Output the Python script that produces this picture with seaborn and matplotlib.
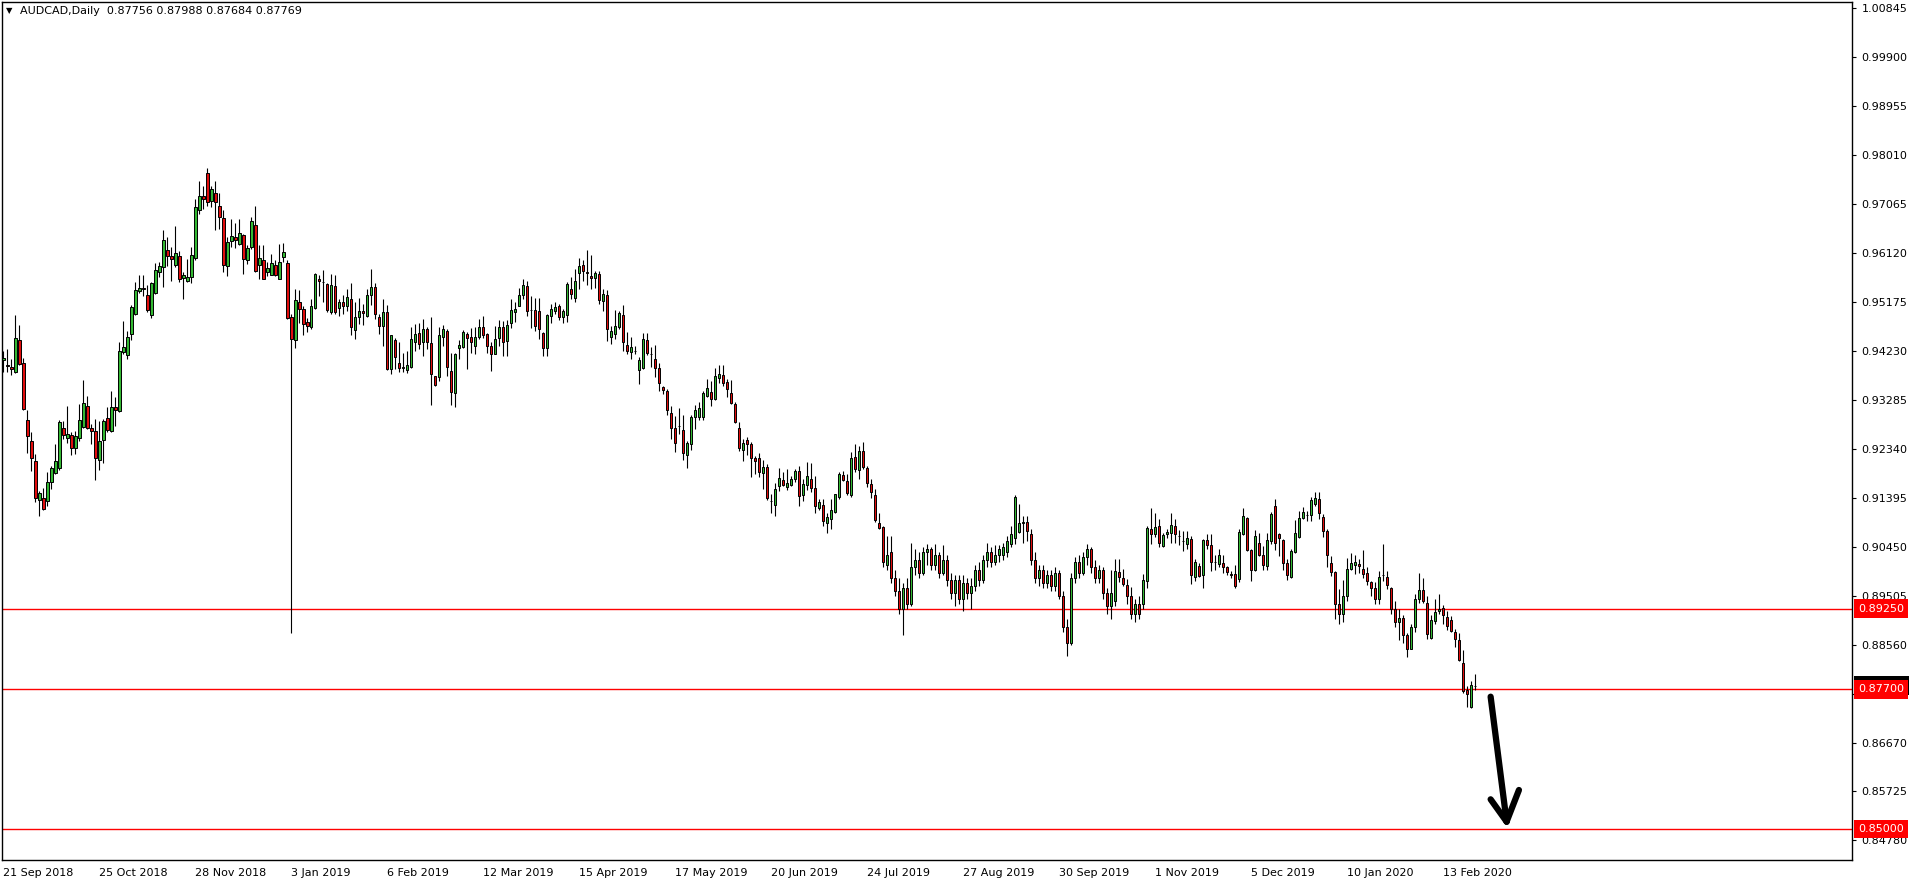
import numpy as np
import pandas as pd
import matplotlib
matplotlib.use("Agg")
import matplotlib.pyplot as plt
import matplotlib.transforms as mtransforms
import seaborn as sns

# header of the chart window
symbol = "AUDCAD,Daily"
last_ohlc = "0.87756 0.87988 0.87684 0.87769"

# one date label every 24 bars (MT4 style)
date_labels = ["21 Sep 2018", "25 Oct 2018", "28 Nov 2018", "3 Jan 2019", "6 Feb 2019",
               "12 Mar 2019", "15 Apr 2019", "17 May 2019", "20 Jun 2019", "24 Jul 2019",
               "27 Aug 2019", "30 Sep 2019", "1 Nov 2019", "5 Dec 2019", "10 Jan 2020",
               "13 Feb 2020"]
bars_per_label = 24

# daily candles
opens = [
    0.9405, 0.9396, 0.9393, 0.9383, 0.9444, 0.9399, 0.9289, 0.9250, 0.9211, 0.9136,
    0.9139, 0.9134, 0.9171, 0.9187, 0.9197, 0.9275, 0.9255, 0.9261, 0.9236, 0.9255,
    0.9276, 0.9316, 0.9274, 0.9269, 0.9212, 0.9251, 0.9293, 0.9268, 0.9314, 0.9307,
    0.9422, 0.9416, 0.9455, 0.9494, 0.9538, 0.9545, 0.9532, 0.9493, 0.9535, 0.9575,
    0.9585, 0.9618, 0.9606, 0.9589, 0.9606, 0.9564, 0.9559, 0.9566, 0.9603, 0.9695,
    0.9722, 0.9767, 0.9712, 0.9729, 0.9703, 0.9680, 0.9587, 0.9635, 0.9643, 0.9629,
    0.9647, 0.9598, 0.9623, 0.9666, 0.9589, 0.9599, 0.9575, 0.9570, 0.9589, 0.9563,
    0.9604, 0.9593, 0.9488, 0.9444, 0.9517, 0.9504, 0.9479, 0.9469, 0.9506, 0.9562,
    0.9557, 0.9553, 0.9499, 0.9548, 0.9507, 0.9517, 0.9509, 0.9524, 0.9463, 0.9488,
    0.9500, 0.9491, 0.9532, 0.9546, 0.9488, 0.9472, 0.9498, 0.9388, 0.9445, 0.9399,
    0.9392, 0.9387, 0.9393, 0.9441, 0.9457, 0.9440, 0.9465, 0.9438, 0.9374, 0.9373,
    0.9450, 0.9461, 0.9385, 0.9341, 0.9429, 0.9430, 0.9455, 0.9451, 0.9433, 0.9450,
    0.9469, 0.9455, 0.9433, 0.9418, 0.9449, 0.9470, 0.9443, 0.9478, 0.9499, 0.9510,
    0.9532, 0.9548, 0.9503, 0.9503, 0.9500, 0.9457, 0.9429, 0.9490, 0.9500, 0.9509,
    0.9488, 0.9493, 0.9543, 0.9526, 0.9573, 0.9589, 0.9575, 0.9568, 0.9564, 0.9571,
    0.9520, 0.9531, 0.9451, 0.9455, 0.9470, 0.9492, 0.9435, 0.9422, 0.9424, 0.9386,
    0.9391, 0.9444, 0.9418, 0.9408, 0.9391, 0.9353, 0.9346, 0.9304, 0.9274, 0.9279,
    0.9270, 0.9223, 0.9243, 0.9296, 0.9296, 0.9296, 0.9337, 0.9344, 0.9331, 0.9371,
    0.9376, 0.9363, 0.9341, 0.9320, 0.9275, 0.9232, 0.9251, 0.9243, 0.9216, 0.9216,
    0.9188, 0.9199, 0.9134, 0.9126, 0.9163, 0.9174, 0.9161, 0.9165, 0.9175, 0.9191,
    0.9145, 0.9165, 0.9176, 0.9158, 0.9119, 0.9125, 0.9090, 0.9098, 0.9112, 0.9141,
    0.9183, 0.9172, 0.9145, 0.9219, 0.9194, 0.9230, 0.9198, 0.9166, 0.9145, 0.9090,
    0.9083, 0.9010, 0.9035, 0.8985, 0.8960, 0.8925, 0.8965, 0.8935, 0.9005, 0.9020,
    0.8995, 0.9035, 0.9040, 0.9010, 0.9030, 0.8995, 0.9020, 0.8980, 0.8955, 0.8980,
    0.8945, 0.8975, 0.8955, 0.8970, 0.9000, 0.8980, 0.9020, 0.9035, 0.9015, 0.9030,
    0.9030, 0.9035, 0.9050, 0.9061, 0.9074, 0.9090, 0.9092, 0.9069, 0.9020, 0.8985,
    0.9000, 0.8975, 0.8990, 0.8970, 0.8995, 0.8950, 0.8890, 0.8860, 0.8985, 0.9015,
    0.8995, 0.9025, 0.9040, 0.9005, 0.8985, 0.9000, 0.8955, 0.8930, 0.8940, 0.8997,
    0.8985, 0.8972, 0.8950, 0.8915, 0.8935, 0.8935, 0.8979, 0.9080, 0.9070, 0.9085,
    0.9047, 0.9070, 0.9072, 0.9085, 0.9066, 0.9057, 0.9051, 0.9060, 0.8987, 0.9007,
    0.8990, 0.9059, 0.9048, 0.9016, 0.9012, 0.9013, 0.9005, 0.8992, 0.8992, 0.8983,
    0.9070, 0.9101, 0.9038, 0.9001, 0.9053, 0.9030, 0.9007, 0.9056, 0.9123, 0.9069,
    0.9058, 0.9014, 0.8987, 0.9034, 0.9063, 0.9100, 0.9107, 0.9106, 0.9127, 0.9137,
    0.9102, 0.9076, 0.9014, 0.8997, 0.8935, 0.8915, 0.8950, 0.9003, 0.9009, 0.9011,
    0.9003, 0.8995, 0.8977, 0.8966, 0.8945, 0.8991, 0.8987, 0.8966, 0.8925, 0.8900,
    0.8908, 0.8874, 0.8848, 0.8890, 0.8945, 0.8961, 0.8936, 0.8869, 0.8901, 0.8921,
    0.8927, 0.8910, 0.8904, 0.8881, 0.8864, 0.8820, 0.8769, 0.8735, 0.87756,
]
highs = [
    0.9423, 0.9427, 0.9408, 0.9492, 0.9474, 0.9409, 0.9309, 0.9266, 0.9224, 0.9153,
    0.9158, 0.9189, 0.9201, 0.9243, 0.9289, 0.9288, 0.9316, 0.9266, 0.9268, 0.9320,
    0.9367, 0.9336, 0.9283, 0.9291, 0.9287, 0.9291, 0.9314, 0.9346, 0.9334, 0.9441,
    0.9481, 0.9462, 0.9512, 0.9556, 0.9570, 0.9569, 0.9551, 0.9556, 0.9593, 0.9594,
    0.9656, 0.9643, 0.9623, 0.9664, 0.9617, 0.9576, 0.9601, 0.9623, 0.9716, 0.9751,
    0.9742, 0.9777, 0.9742, 0.9751, 0.9728, 0.9696, 0.9644, 0.9678, 0.9670, 0.9678,
    0.9649, 0.9628, 0.9681, 0.9703, 0.9627, 0.9628, 0.9594, 0.9611, 0.9599, 0.9630,
    0.9631, 0.9599, 0.9495, 0.9543, 0.9540, 0.9510, 0.9487, 0.9524, 0.9574, 0.9569,
    0.9580, 0.9555, 0.9572, 0.9569, 0.9524, 0.9531, 0.9543, 0.9555, 0.9517, 0.9525,
    0.9514, 0.9543, 0.9582, 0.9555, 0.9495, 0.9524, 0.9512, 0.9454, 0.9449, 0.9440,
    0.9420, 0.9424, 0.9469, 0.9475, 0.9477, 0.9485, 0.9470, 0.9488, 0.9375, 0.9470,
    0.9473, 0.9466, 0.9419, 0.9420, 0.9444, 0.9464, 0.9459, 0.9468, 0.9470, 0.9485,
    0.9491, 0.9458, 0.9441, 0.9472, 0.9483, 0.9481, 0.9483, 0.9524, 0.9517, 0.9544,
    0.9563, 0.9558, 0.9530, 0.9525, 0.9525, 0.9459, 0.9495, 0.9514, 0.9517, 0.9514,
    0.9504, 0.9556, 0.9566, 0.9582, 0.9602, 0.9598, 0.9618, 0.9608, 0.9578, 0.9578,
    0.9542, 0.9540, 0.9472, 0.9503, 0.9501, 0.9511, 0.9459, 0.9450, 0.9433, 0.9411,
    0.9458, 0.9458, 0.9431, 0.9434, 0.9399, 0.9356, 0.9350, 0.9316, 0.9297, 0.9313,
    0.9299, 0.9250, 0.9299, 0.9318, 0.9324, 0.9346, 0.9369, 0.9366, 0.9391, 0.9396,
    0.9396, 0.9369, 0.9368, 0.9325, 0.9285, 0.9254, 0.9256, 0.9247, 0.9221, 0.9227,
    0.9212, 0.9205, 0.9146, 0.9169, 0.9197, 0.9189, 0.9195, 0.9181, 0.9195, 0.9200,
    0.9176, 0.9208, 0.9206, 0.9182, 0.9137, 0.9137, 0.9111, 0.9137, 0.9147, 0.9189,
    0.9192, 0.9185, 0.9228, 0.9243, 0.9240, 0.9247, 0.9200, 0.9176, 0.9156, 0.9111,
    0.9085, 0.9066, 0.9066, 0.9000, 0.8985, 0.8975, 0.8985, 0.9052, 0.9040, 0.9035,
    0.9045, 0.9050, 0.9045, 0.9050, 0.9035, 0.9049, 0.9030, 0.8995, 0.8990, 0.8990,
    0.8990, 0.8985, 0.8985, 0.9010, 0.9015, 0.9030, 0.9053, 0.9045, 0.9049, 0.9049,
    0.9053, 0.9065, 0.9086, 0.9145, 0.9127, 0.9105, 0.9105, 0.9080, 0.9035, 0.9010,
    0.9010, 0.9000, 0.9000, 0.9005, 0.9000, 0.8960, 0.8905, 0.8995, 0.9025, 0.9030,
    0.9035, 0.9050, 0.9045, 0.9020, 0.9010, 0.9005, 0.8965, 0.9001, 0.9021, 0.9021,
    0.9003, 0.8983, 0.8967, 0.8945, 0.8950, 0.8992, 0.9085, 0.9119, 0.9110, 0.9098,
    0.9071, 0.9079, 0.9110, 0.9098, 0.9078, 0.9076, 0.9076, 0.9065, 0.9022, 0.9014,
    0.9060, 0.9069, 0.9069, 0.9029, 0.9041, 0.9029, 0.9008, 0.8998, 0.9009, 0.9079,
    0.9119, 0.9103, 0.9041, 0.9078, 0.9072, 0.9047, 0.9072, 0.9112, 0.9137, 0.9071,
    0.9060, 0.9021, 0.9040, 0.9097, 0.9114, 0.9121, 0.9114, 0.9141, 0.9150, 0.9150,
    0.9108, 0.9079, 0.9027, 0.8998, 0.8964, 0.8981, 0.9024, 0.9032, 0.9029, 0.9021,
    0.9038, 0.9006, 0.8979, 0.8977, 0.8998, 0.9050, 0.8998, 0.8968, 0.8940, 0.8925,
    0.8914, 0.8879, 0.8896, 0.8953, 0.8995, 0.8985, 0.8949, 0.8914, 0.8945, 0.8953,
    0.8932, 0.8921, 0.8911, 0.8887, 0.8878, 0.8845, 0.8776, 0.8785, 0.87988,
]
lows = [
    0.9382, 0.9382, 0.9376, 0.9380, 0.9396, 0.9309, 0.9226, 0.9191, 0.9131, 0.9104,
    0.9116, 0.9124, 0.9156, 0.9185, 0.9194, 0.9254, 0.9245, 0.9222, 0.9224, 0.9249,
    0.9275, 0.9272, 0.9243, 0.9173, 0.9194, 0.9206, 0.9266, 0.9266, 0.9278, 0.9305,
    0.9417, 0.9408, 0.9445, 0.9493, 0.9536, 0.9530, 0.9498, 0.9487, 0.9533, 0.9566,
    0.9547, 0.9587, 0.9559, 0.9585, 0.9557, 0.9523, 0.9556, 0.9554, 0.9599, 0.9687,
    0.9697, 0.9703, 0.9701, 0.9656, 0.9659, 0.9575, 0.9567, 0.9623, 0.9622, 0.9627,
    0.9572, 0.9591, 0.9620, 0.9575, 0.9563, 0.9562, 0.9567, 0.9569, 0.9567, 0.9562,
    0.9594, 0.9485, 0.8879, 0.9429, 0.9478, 0.9454, 0.9459, 0.9466, 0.9504, 0.9530,
    0.9518, 0.9498, 0.9495, 0.9494, 0.9491, 0.9495, 0.9501, 0.9454, 0.9447, 0.9475,
    0.9473, 0.9488, 0.9512, 0.9485, 0.9456, 0.9433, 0.9387, 0.9378, 0.9388, 0.9383,
    0.9383, 0.9381, 0.9390, 0.9423, 0.9427, 0.9414, 0.9427, 0.9319, 0.9355, 0.9366,
    0.9433, 0.9375, 0.9318, 0.9315, 0.9408, 0.9429, 0.9388, 0.9420, 0.9417, 0.9447,
    0.9449, 0.9420, 0.9385, 0.9417, 0.9433, 0.9413, 0.9413, 0.9468, 0.9479, 0.9509,
    0.9524, 0.9491, 0.9467, 0.9462, 0.9447, 0.9414, 0.9414, 0.9478, 0.9495, 0.9482,
    0.9477, 0.9480, 0.9524, 0.9518, 0.9543, 0.9559, 0.9551, 0.9543, 0.9544, 0.9514,
    0.9501, 0.9443, 0.9437, 0.9446, 0.9466, 0.9424, 0.9417, 0.9408, 0.9417, 0.9359,
    0.9388, 0.9415, 0.9392, 0.9373, 0.9345, 0.9340, 0.9299, 0.9253, 0.9228, 0.9262,
    0.9213, 0.9197, 0.9232, 0.9273, 0.9290, 0.9290, 0.9334, 0.9316, 0.9329, 0.9361,
    0.9356, 0.9335, 0.9321, 0.9284, 0.9230, 0.9211, 0.9222, 0.9179, 0.9185, 0.9179,
    0.9156, 0.9136, 0.9110, 0.9104, 0.9153, 0.9162, 0.9154, 0.9162, 0.9171, 0.9124,
    0.9134, 0.9155, 0.9150, 0.9110, 0.9116, 0.9085, 0.9072, 0.9079, 0.9111, 0.9137,
    0.9172, 0.9145, 0.9141, 0.9189, 0.9176, 0.9195, 0.9160, 0.9139, 0.9092, 0.9079,
    0.9005, 0.9000, 0.8975, 0.8950, 0.8915, 0.8875, 0.8925, 0.8930, 0.8990, 0.8985,
    0.8990, 0.9010, 0.9000, 0.9000, 0.8985, 0.8990, 0.8970, 0.8945, 0.8930, 0.8935,
    0.8920, 0.8945, 0.8925, 0.8960, 0.8970, 0.8975, 0.9005, 0.9005, 0.9010, 0.9015,
    0.9020, 0.9025, 0.9045, 0.9050, 0.9072, 0.9052, 0.9056, 0.9010, 0.8975, 0.8970,
    0.8965, 0.8965, 0.8960, 0.8960, 0.8945, 0.8880, 0.8835, 0.8855, 0.8975, 0.8985,
    0.8990, 0.9010, 0.8995, 0.8975, 0.8975, 0.8945, 0.8915, 0.8905, 0.8930, 0.8976,
    0.8970, 0.8935, 0.8905, 0.8900, 0.8905, 0.8925, 0.8965, 0.9050, 0.9063, 0.9045,
    0.9045, 0.9061, 0.9053, 0.9053, 0.9049, 0.9036, 0.9040, 0.8974, 0.8979, 0.8987,
    0.8966, 0.9040, 0.8998, 0.9000, 0.9005, 0.8994, 0.8990, 0.8985, 0.8966, 0.8977,
    0.9068, 0.9037, 0.8979, 0.8998, 0.9027, 0.9001, 0.9001, 0.9050, 0.9039, 0.9027,
    0.9001, 0.8981, 0.8985, 0.9032, 0.9061, 0.9098, 0.9095, 0.9095, 0.9124, 0.9098,
    0.9063, 0.9005, 0.8989, 0.8905, 0.8895, 0.8900, 0.8940, 0.9001, 0.8992, 0.8995,
    0.8985, 0.8972, 0.8950, 0.8935, 0.8935, 0.8979, 0.8963, 0.8915, 0.8890, 0.8865,
    0.8860, 0.8832, 0.8847, 0.8880, 0.8937, 0.8937, 0.8867, 0.8867, 0.8896, 0.8916,
    0.8896, 0.8884, 0.8880, 0.8852, 0.8824, 0.8763, 0.8735, 0.8734, 0.87684,
]
closes = [
    0.9410, 0.9394, 0.9389, 0.9448, 0.9397, 0.9311, 0.9258, 0.9216, 0.9139, 0.9148,
    0.9117, 0.9171, 0.9197, 0.9210, 0.9285, 0.9261, 0.9263, 0.9236, 0.9258, 0.9289,
    0.9323, 0.9275, 0.9269, 0.9216, 0.9250, 0.9287, 0.9270, 0.9314, 0.9309, 0.9423,
    0.9430, 0.9451, 0.9508, 0.9541, 0.9544, 0.9542, 0.9503, 0.9554, 0.9580, 0.9587,
    0.9638, 0.9606, 0.9600, 0.9612, 0.9563, 0.9570, 0.9566, 0.9609, 0.9701, 0.9722,
    0.9716, 0.9711, 0.9735, 0.9711, 0.9681, 0.9590, 0.9633, 0.9645, 0.9638, 0.9651,
    0.9601, 0.9622, 0.9675, 0.9577, 0.9603, 0.9563, 0.9584, 0.9593, 0.9570, 0.9595,
    0.9614, 0.9486, 0.9446, 0.9522, 0.9505, 0.9476, 0.9472, 0.9510, 0.9572, 0.9558,
    0.9556, 0.9503, 0.9551, 0.9498, 0.9517, 0.9509, 0.9528, 0.9470, 0.9488, 0.9501,
    0.9497, 0.9532, 0.9546, 0.9494, 0.9472, 0.9498, 0.9389, 0.9453, 0.9411, 0.9391,
    0.9391, 0.9396, 0.9446, 0.9456, 0.9437, 0.9465, 0.9440, 0.9378, 0.9357, 0.9453,
    0.9465, 0.9392, 0.9344, 0.9417, 0.9435, 0.9459, 0.9449, 0.9440, 0.9451, 0.9469,
    0.9454, 0.9433, 0.9418, 0.9447, 0.9469, 0.9441, 0.9473, 0.9503, 0.9505, 0.9532,
    0.9551, 0.9501, 0.9502, 0.9472, 0.9466, 0.9429, 0.9492, 0.9504, 0.9508, 0.9489,
    0.9500, 0.9552, 0.9533, 0.9558, 0.9587, 0.9578, 0.9573, 0.9564, 0.9573, 0.9522,
    0.9533, 0.9465, 0.9461, 0.9471, 0.9497, 0.9440, 0.9424, 0.9431, 0.9423, 0.9406,
    0.9446, 0.9419, 0.9417, 0.9390, 0.9362, 0.9348, 0.9310, 0.9275, 0.9246, 0.9278,
    0.9227, 0.9245, 0.9295, 0.9310, 0.9313, 0.9342, 0.9351, 0.9330, 0.9374, 0.9378,
    0.9362, 0.9349, 0.9322, 0.9286, 0.9235, 0.9246, 0.9244, 0.9216, 0.9211, 0.9190,
    0.9199, 0.9139, 0.9133, 0.9156, 0.9177, 0.9165, 0.9169, 0.9176, 0.9192, 0.9143,
    0.9166, 0.9181, 0.9159, 0.9124, 0.9132, 0.9095, 0.9103, 0.9116, 0.9146, 0.9185,
    0.9174, 0.9149, 0.9216, 0.9195, 0.9230, 0.9199, 0.9169, 0.9151, 0.9097, 0.9081,
    0.9015, 0.9030, 0.8985, 0.8960, 0.8925, 0.8965, 0.8935, 0.9005, 0.9020, 0.8995,
    0.9035, 0.9040, 0.9010, 0.9030, 0.8995, 0.9020, 0.8980, 0.8955, 0.8980, 0.8945,
    0.8975, 0.8955, 0.8970, 0.9000, 0.8980, 0.9020, 0.9035, 0.9015, 0.9030, 0.9040,
    0.9045, 0.9056, 0.9069, 0.9141, 0.9090, 0.9092, 0.9076, 0.9020, 0.8985, 0.9000,
    0.8975, 0.8990, 0.8970, 0.8995, 0.8950, 0.8890, 0.8860, 0.8985, 0.9015, 0.8995,
    0.9025, 0.9040, 0.9005, 0.8985, 0.9000, 0.8955, 0.8930, 0.8955, 0.8999, 0.8987,
    0.8974, 0.8950, 0.8915, 0.8935, 0.8915, 0.8980, 0.9081, 0.9070, 0.9083, 0.9053,
    0.9067, 0.9074, 0.9087, 0.9069, 0.9065, 0.9056, 0.9061, 0.8990, 0.9015, 0.8989,
    0.9058, 0.9049, 0.9016, 0.9015, 0.9029, 0.9005, 0.8996, 0.8991, 0.8969, 0.9074,
    0.9104, 0.9039, 0.9000, 0.9065, 0.9029, 0.9010, 0.9059, 0.9108, 0.9052, 0.9061,
    0.9014, 0.8990, 0.9036, 0.9072, 0.9101, 0.9113, 0.9106, 0.9135, 0.9139, 0.9111,
    0.9076, 0.9030, 0.8997, 0.8935, 0.8915, 0.8950, 0.9003, 0.9013, 0.9016, 0.9007,
    0.8993, 0.8979, 0.8965, 0.8945, 0.8987, 0.8990, 0.8972, 0.8925, 0.8900, 0.8908,
    0.8874, 0.8848, 0.8890, 0.8945, 0.8961, 0.8940, 0.8876, 0.8904, 0.8919, 0.8925,
    0.8913, 0.8892, 0.8882, 0.8867, 0.8826, 0.8766, 0.8761, 0.8779, 0.87769,
]

# right price scale
price_ticks = [0.84780, 0.85725, 0.86670, 0.87615, 0.88560, 0.89505, 0.90450, 0.91395,
               0.92340, 0.93285, 0.94230, 0.95175, 0.96120, 0.97065, 0.98010, 0.98955,
               0.99900, 1.00845]
# horizontal levels drawn on the chart
levels = [0.89250, 0.87700, 0.85000]
last_close = 0.87769

# hand drawn arrow (bar index, price)
arrow_shaft = ([371.85, 375.85], [0.87555, 0.85141])
arrow_left = ([371.85, 375.85], [0.85573, 0.85141])
arrow_right = ([378.93, 375.85], [0.85753, 0.85141])

df = pd.DataFrame({"open": opens, "high": highs, "low": lows, "close": closes})
df["bar"] = np.arange(len(df))
df["up"] = df["close"] >= df["open"]

sns.set_style("white")
plt.rcParams["font.family"] = ["DejaVu Sans"]

fig = plt.figure(figsize=(19.16, 8.84), dpi=100)
ax = fig.add_axes([2 / 1916, 24 / 884, 1850 / 1916, 858 / 884])

# candles
ax.vlines(df["bar"], df["low"], df["high"], color="black", lw=0.8, zorder=3)
body_lo = df[["open", "close"]].min(axis=1)
body_h = (df["close"] - df["open"]).abs().clip(lower=0.00004)
ax.bar(df["bar"], body_h, bottom=body_lo, width=0.6,
       color=np.where(df["up"], "#33b833", "#e00d0d"),
       edgecolor="black", linewidth=0.7, zorder=4)

for lv in levels:
    ax.axhline(lv, color="red", lw=1.0, zorder=2)

for xs, ys in (arrow_shaft, arrow_left, arrow_right):
    ax.plot(xs, ys, color="black", lw=4.5, solid_capstyle="round", zorder=6)

ax.set_xlim(-0.33, 462.2)
ax.set_ylim(0.84401, 1.00970)

# x axis: date labels to the right of the tick
ax.set_xticks(np.arange(len(date_labels)) * bars_per_label)
ax.set_xticklabels(date_labels, ha="left")
shift = mtransforms.ScaledTranslation(2 / 100, 0, fig.dpi_scale_trans)
for lbl in ax.get_xticklabels():
    lbl.set_transform(lbl.get_transform() + shift)
ax.tick_params(axis="x", direction="out", length=4, width=0.8, pad=2,
               labelsize=8, colors="black")

# y axis on the right
ax.yaxis.tick_right()
ax.set_yticks(price_ticks)
ax.set_yticklabels([f"{v:.5f}" for v in price_ticks])
ax.tick_params(axis="y", direction="out", length=3, width=0.8, pad=4,
               labelsize=8, colors="black", right=True, left=False)

for s in ax.spines.values():
    s.set_visible(True)
    s.set_color("black")
    s.set_linewidth(1.0)

# price tags on the scale
tag_trans = (mtransforms.blended_transform_factory(ax.transAxes, ax.transData)
             + mtransforms.ScaledTranslation(6 / 100, 0, fig.dpi_scale_trans))
ax.text(1, last_close, f"{last_close:.5f}", transform=tag_trans, color="white",
        fontsize=8, va="center", ha="left", clip_on=False, zorder=7,
        bbox=dict(boxstyle="square,pad=0.4", fc="black", ec="none"))
for lv in levels:
    ax.text(1, lv, f"{lv:.5f}", transform=tag_trans, color="white",
            fontsize=8, va="center", ha="left", clip_on=False, zorder=8,
            bbox=dict(boxstyle="square,pad=0.4", fc="red", ec="none"))

# header line
fig.text(6 / 1916, 1 - 11 / 884, "\u25bc", fontsize=6, va="center", color="black")
fig.text(20 / 1916, 1 - 11 / 884, f"{symbol}  {last_ohlc}", fontsize=8,
         va="center", color="black")

fig.savefig("out.png", dpi=100)
